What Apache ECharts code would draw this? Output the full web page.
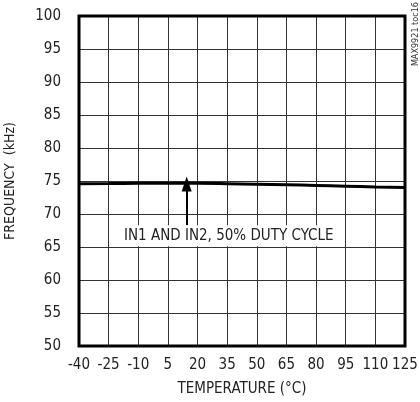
<!DOCTYPE html>
<html><head><meta charset="utf-8">
<script src="https://cdn.jsdelivr.net/npm/echarts@6/dist/echarts.min.js"></script>
<style>html,body{margin:0;padding:0;background:#fff}#c{width:420px;height:402px}</style>
</head><body><div id="c"></div>
<script>
const temps = [-40, -25, -10, 5, 20, 35, 50, 65, 80, 95, 110, 125];
const freqKHz = [74.6, 74.62, 74.65, 74.66, 74.65, 74.6, 74.52, 74.43, 74.33, 74.22, 74.1, 74.0];
const annotationText = 'IN1 AND IN2, 50% DUTY CYCLE';
const FONT = '"DejaVu Sans Condensed", "Liberation Sans Narrow", sans-serif';
const chart = echarts.init(document.getElementById('c'), null, {renderer: 'canvas'});
chart.setOption({
  animation: false,
  grid: {left: 79, right: 15, top: 16, bottom: 56, containLabel: false, outerBoundsMode: 'none', show: true, borderColor: '#000', borderWidth: 3, backgroundColor: 'transparent', z: 3},
  xAxis: {
    type: 'value', min: -40, max: 125, interval: 15,
    name: 'TEMPERATURE (°C)', nameLocation: 'middle', nameGap: 36,
    nameTextStyle: {fontFamily: FONT, fontSize: 15, color: '#222'},
    axisLine: {show: false}, axisTick: {show: false},
    axisLabel: {fontFamily: FONT, fontSize: 15, color: '#222', margin: 12},
    splitLine: {show: true, lineStyle: {color: '#333', width: 1}}
  },
  yAxis: {
    type: 'value', min: 50, max: 100, interval: 5,
    name: 'FREQUENCY  (kHz)', nameLocation: 'middle', nameGap: 62,
    nameTextStyle: {fontFamily: FONT, fontSize: 14, color: '#222'},
    axisLine: {show: false}, axisTick: {show: false},
    axisLabel: {fontFamily: FONT, fontSize: 15, color: '#222', margin: 18},
    splitLine: {show: true, lineStyle: {color: '#333', width: 1}}
  },
  series: [{
    type: 'line', data: temps.map((t, i) => [t, freqKHz[i]]),
    showSymbol: false, smooth: true,
    lineStyle: {color: '#000', width: 3}, z: 5,
    markLine: {
      silent: true, symbol: ['none', 'triangle'], symbolSize: [10, 15],
      lineStyle: {color: '#000', width: 2, type: 'solid'}, label: {show: false},
      data: [[{coord: [14.5, 68.3]}, {coord: [14.5, 74.55]}]]
    },
    markPoint: {
      silent: true, symbol: 'rect', symbolSize: 1,
      itemStyle: {color: 'transparent'},
      label: {show: true, position: 'inside', formatter: annotationText, fontFamily: FONT, fontSize: 15, color: '#222', backgroundColor: '#fff', padding: [3, 6, 3, 6]},
      data: [{coord: [35.8, 66.7]}]
    }
  }],
  graphic: [{
    type: 'text', right: 0, top: 2, rotation: Math.PI / 2, z: 10,
    style: {text: 'MAX9921 toc16', fontFamily: FONT, fontSize: 9, fill: '#333'}
  }]
});
</script></body></html>
